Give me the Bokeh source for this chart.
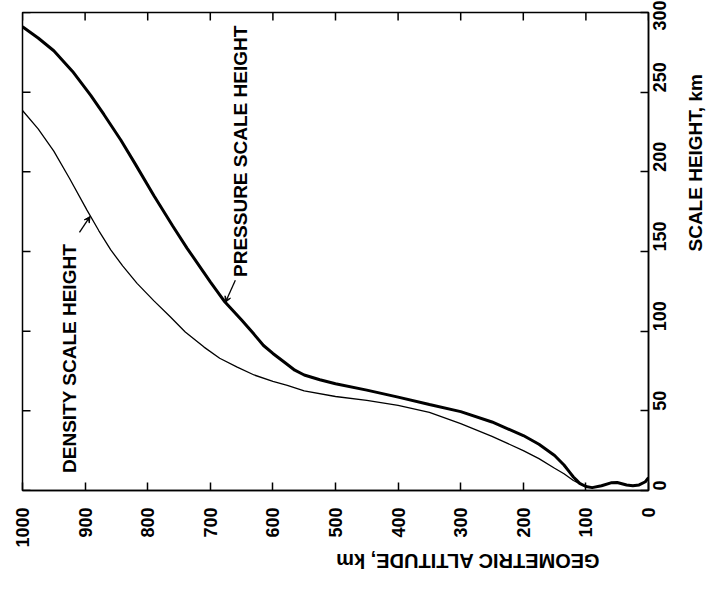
import math
from bokeh.plotting import figure
from bokeh.models import Range1d, FixedTicker, Label, Arrow, VeeHead
from bokeh.embed import file_html
from bokeh.resources import INLINE

# ---- data (altitude km, scale height km) ----
pressure_alt = [0, 5, 15, 25, 35, 50, 60, 75, 90, 100, 110, 115, 120, 127, 135,
                150, 175, 200, 250, 300, 350, 400, 450, 500, 525, 550, 565, 580,
                600, 615, 630, 650, 678, 700, 737, 760, 790, 820, 843, 870, 891,
                920, 950, 975, 1000]
pressure_sh = [8, 5.5, 3.5, 3, 3.5, 5, 4.8, 3, 1.8, 2.5, 4.5, 6.5, 8.5, 12, 16,
               22, 29, 34.5, 43, 49.5, 54, 58.6, 63, 67, 69.5, 72.5, 75.5, 80,
               86, 91, 98, 107, 119, 131, 152, 166, 185, 205, 220, 236, 248,
               263, 276, 284, 291]

density_alt = [0, 5, 15, 25, 35, 50, 60, 75, 90, 100, 110, 120, 135, 150, 175,
               200, 250, 300, 350, 400, 450, 500, 550, 577, 600, 630, 657, 685,
               710, 740, 764, 790, 817, 840, 859, 878, 897, 925, 950, 975, 1000]
density_sh = [8, 5.5, 3.5, 3, 3.5, 5, 4.8, 3, 1.8, 2.5, 4.3, 6.3, 10.5, 14, 20,
              25, 34, 42, 49, 53.4, 56.5, 59, 62.5, 66, 68.5, 72.5, 77.4, 83,
              90, 99.5, 109, 119, 130, 141, 151, 163, 176, 196, 213, 227, 238.5]

alt_ticks = [0, 100, 200, 300, 400, 500, 600, 700, 800, 900, 1000]
sh_ticks = [0, 50, 100, 150, 200, 250, 300]

FONT = "Liberation Sans"
ALT_MIN, ALT_MAX = 0, 1000
SH_MIN, SH_MAX = 0, 300

p = figure(width=720, height=591, output_backend="svg", toolbar_location=None,
           x_range=Range1d(ALT_MAX, ALT_MIN), y_range=Range1d(SH_MIN, SH_MAX),
           x_axis_location="below", y_axis_location="right",
           min_border_left=22, min_border_right=72,
           min_border_top=12, min_border_bottom=101)
p.grid.visible = False
p.outline_line_color = "black"
p.outline_line_width = 1.5
p.background_fill_color = "white"
p.border_fill_color = "white"

def style_axis(ax, ticks):
    ax.ticker = FixedTicker(ticks=ticks)
    ax.major_tick_in = 8
    ax.major_tick_out = 0
    ax.minor_tick_in = 0
    ax.minor_tick_out = 0
    ax.axis_line_color = "black"
    ax.axis_line_width = 1.5
    ax.major_tick_line_color = "black"
    ax.major_tick_line_width = 1.5
    ax.major_label_text_font = FONT
    ax.major_label_text_font_style = "bold"
    ax.major_label_text_font_size = "18px"
    ax.major_label_text_color = "black"
    ax.major_label_orientation = math.pi / 2
    ax.axis_label_text_font = FONT
    ax.axis_label_text_font_style = "bold"
    ax.axis_label_text_color = "black"

xa = p.xaxis[0]
style_axis(xa, alt_ticks)
xa.major_label_standoff = 17
xa.axis_label = "GEOMETRIC ALTITUDE, km"
xa.axis_label_text_font_size = "20px"
xa.axis_label_standoff = 10

ya = p.yaxis[0]
style_axis(ya, sh_ticks)
ya.major_label_standoff = 11
ya.axis_label = "SCALE HEIGHT, km"
ya.axis_label_text_font_size = "19px"
ya.axis_label_standoff = 20

props = xa.properties()
if "axis_label_orientation" in props:
    xa.axis_label_orientation = math.pi
    ya.axis_label_orientation = math.pi / 2

# inward ticks on the top and left edges of the frame
p.ray(x=alt_ticks, y=[SH_MAX] * len(alt_ticks), length=8, length_units="screen",
      angle=-math.pi / 2, line_color="black", line_width=1.5)
p.ray(x=[ALT_MAX] * len(sh_ticks), y=sh_ticks, length=8, length_units="screen",
      angle=0, line_color="black", line_width=1.5)

p.line(pressure_alt, pressure_sh, line_color="black", line_width=3)
p.line(density_alt, density_sh, line_color="black", line_width=1.3)

# curve annotations
p.add_layout(Label(x=652, y=134, text="PRESSURE SCALE HEIGHT", angle=math.pi / 2,
                   text_align="left", text_baseline="middle", text_font=FONT,
                   text_font_style="bold", text_font_size="19px", text_color="black"))
p.add_layout(Label(x=925, y=11, text="DENSITY SCALE HEIGHT", angle=math.pi / 2,
                   text_align="left", text_baseline="middle", text_font=FONT,
                   text_font_style="bold", text_font_size="19px", text_color="black"))
p.add_layout(Arrow(x_start=660, y_start=132, x_end=676, y_end=118,
                   line_width=1.3, line_color="black",
                   end=VeeHead(size=6, fill_color="black", line_color="black")))
p.add_layout(Arrow(x_start=909, y_start=162, x_end=892, y_end=172,
                   line_width=1.3, line_color="black",
                   end=VeeHead(size=6, fill_color="black", line_color="black")))

open("out.html", "w").write(file_html(p, INLINE))
